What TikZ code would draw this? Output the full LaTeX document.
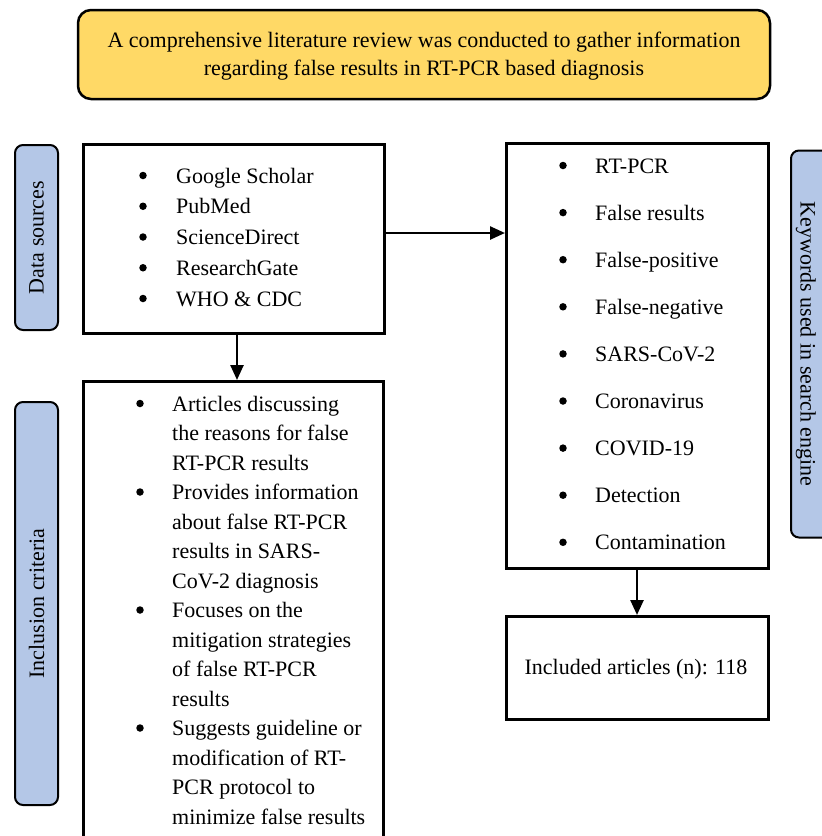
\documentclass[tikz,border=0pt]{standalone}
\usepackage{fontspec}
\setmainfont{Liberation Serif}
\usetikzlibrary{arrows.meta}
\definecolor{sideblue}{HTML}{B4C7E7}
\definecolor{topyellow}{HTML}{FFD966}
\begin{document}
\begin{tikzpicture}[x=1pt,y=-1pt,
  box/.style={draw, line width=3pt, inner sep=0pt},
  side/.style={draw, line width=2pt, fill=sideblue, rounded corners=8pt, inner sep=0pt, font=\fontsize{22}{26}\selectfont},
  conn/.style={line width=2.5pt, -{Triangle[length=15pt,width=13pt]}},
  txt/.style={font=\fontsize{22}{29.5}\selectfont, inner sep=0pt},
  dot/.style={circle, fill, inner sep=0pt, minimum size=7.5pt},
]
\useasboundingbox (0,0) rectangle (822,836);
\clip (0,0) rectangle (822,836);

% top box
\node[draw, line width=2.5pt, fill=topyellow, rounded corners=13pt, minimum width=692pt, minimum height=89pt, inner sep=0pt] (top) at (424,54.5) {};
\node[txt, font=\fontsize{22}{28}\selectfont, align=center, anchor=base] (toptext) at (424,75) {A comprehensive literature review was conducted to gather information\\regarding false results in RT-PCR based diagnosis};

% side labels
\node[side, rotate=90, minimum width=185pt, minimum height=43pt] (ds) at (36.5,237.5) {Data sources};
\node[side, rotate=90, minimum width=403pt, minimum height=43pt] (ic) at (36.5,603.5) {Inclusion criteria};
\node[side, rotate=-90, minimum width=387pt, minimum height=44pt] (kwl) at (813,344) {};
\node[txt, rotate=-90, font=\fontsize{22}{26}\selectfont] (kwltext) at (806,344) {Keywords used in search engine};

% main boxes
\node[box, anchor=north west, minimum width=301pt, minimum height=189pt] (src) at (82,143) {};
\node[box, anchor=north west, minimum width=300pt, minimum height=480pt] (inc) at (82,380) {};
\node[box, anchor=north west, minimum width=262pt, minimum height=425pt] (kw) at (505,142) {};
\node[box, anchor=north west, minimum width=262pt, minimum height=103pt] (res) at (505,615) {};

% data sources list
\foreach \t [count=\i] in {Google Scholar, PubMed, ScienceDirect, ResearchGate, WHO \& CDC} {
  \node[dot] (sb\i) at (143,{183+30.75*(\i-1)-7.5}) {};
  \node[txt, anchor=base west] (st\i) at (176,{183+30.75*(\i-1)}) {\t};
}

% keywords list
\foreach \t [count=\i] in {RT-PCR, False results, False-positive, False-negative, SARS-CoV-2, Coronavirus, COVID-19, Detection, Contamination} {
  \node[dot] (kb\i) at (563,{173+47.1*(\i-1)-7.5}) {};
  \node[txt, anchor=base west] (kt\i) at (595,{173+47.1*(\i-1)}) {\t};
}

% inclusion criteria list (base anchor = last line)
\node[dot] (ib1) at (140,403.5) {};
\node[txt, anchor=base west, align=left] (it1) at (172,470) {Articles discussing\\the reasons for false\\RT-PCR results};
\node[dot] (ib2) at (140,492) {};
\node[txt, anchor=base west, align=left] (it2) at (172,588) {Provides information\\about false RT-PCR\\results in SARS-\\CoV-2 diagnosis};
\node[dot] (ib3) at (140,610) {};
\node[txt, anchor=base west, align=left] (it3) at (172,706) {Focuses on the\\mitigation strategies\\of false RT-PCR\\results};
\node[dot] (ib4) at (140,728) {};
\node[txt, anchor=base west, align=left] (it4) at (172,824) {Suggests guideline or\\modification of RT-\\PCR protocol to\\minimize false results};

% result text
\node[txt, anchor=base] (restext) at (636,674) {Included articles (n): 118};

% connectors
\draw[conn] (src.east |- 0,233) -- (kw.west |- 0,233);
\draw[conn] (src.south -| 237,0) -- (inc.north -| 237,0);
\draw[conn] (kw.south -| 637,0) -- (res.north -| 637,0);
\end{tikzpicture}
\end{document}
